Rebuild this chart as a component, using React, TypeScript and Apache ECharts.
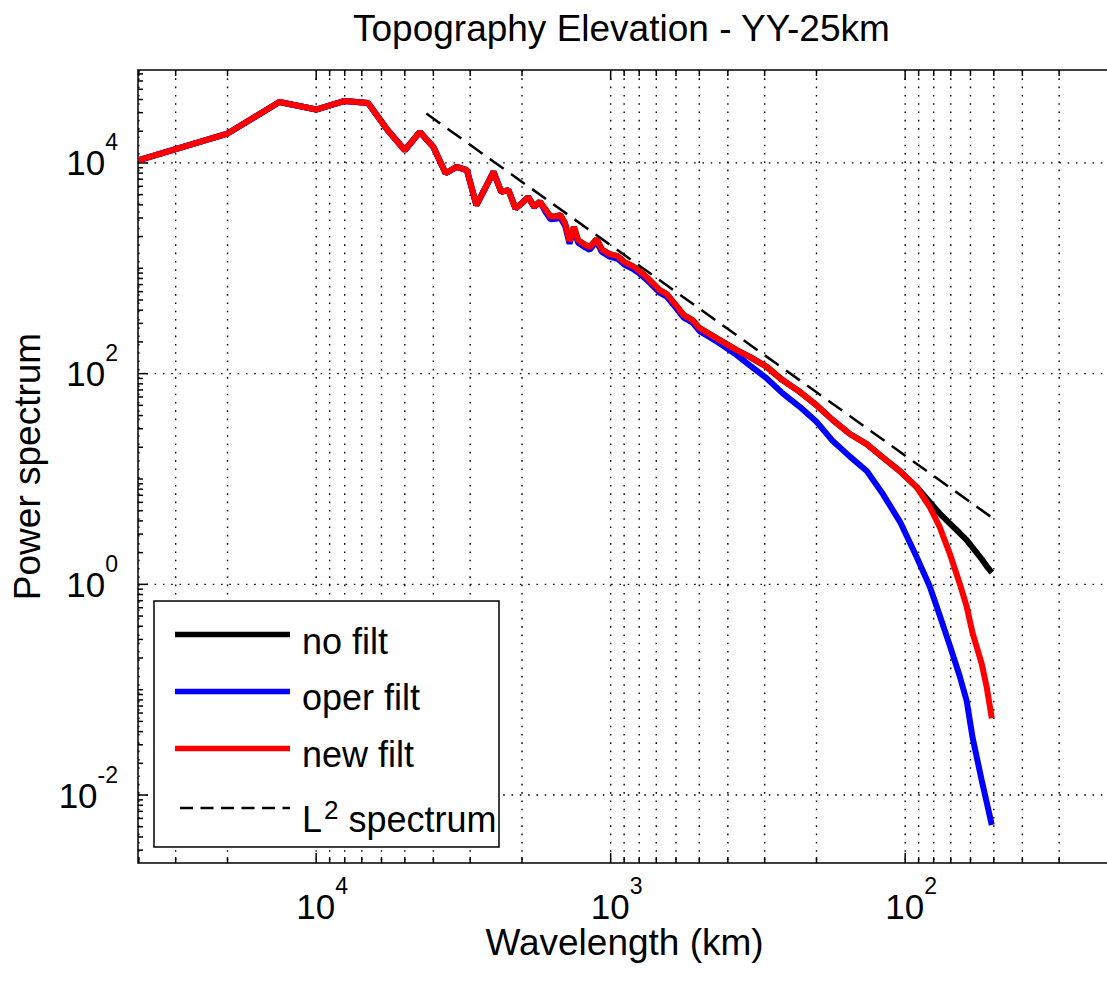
import React, { useEffect, useRef } from 'react';
import * as echarts from 'echarts';

const FONT = '"Liberation Sans", Arial, Helvetica, sans-serif';
const TITLE = 'Topography Elevation - YY-25km';

// Wavelength (km) of each sampled point (shared by the three spectra)
const wavelengthKm = [
  40000, 20000, 13333, 10000, 8000, 6667, 5714, 5000, 4444, 4000,
  3636, 3333, 3077, 2857, 2667, 2500, 2353, 2222, 2105, 2000,
  1905, 1818, 1739, 1667, 1600, 1538, 1481, 1429, 1379, 1333, 1290,
  1216, 1179, 1116, 1073, 1008, 947, 897, 842, 797, 755, 720, 682, 645, 597, 565, 527,
  499, 461, 426, 373, 337, 295, 261, 228, 200, 176, 154, 135, 119, 104,
  91.4, 82.6, 76.4, 70.6, 65.3, 61.8, 59.0, 55.0, 52.9, 50.8,
];

// "new filt" (red)
const newFilt = [
  10610, 19010, 37900, 32110, 38730, 37070, 20420, 13200, 19680, 14190,
  7980, 9160, 8530, 3970, 5750, 8220, 5310, 5510, 3690, 4150,
  4730, 3830, 4270, 3640, 3080, 3120, 3190, 2680, 1810, 2470, 1850,
  1657, 1586, 1889, 1518, 1361, 1302, 1143, 1047, 939, 823, 722, 620, 568, 437, 359, 322,
  270, 237, 208, 167, 144, 116, 86.8, 67.2, 50.2, 36.2, 26.7, 21.4, 16.0, 11.8,
  8.38, 5.45, 3.52, 1.97, 1.02, 0.613, 0.343, 0.178, 0.107, 0.0535,
];

// "oper filt" (blue)
const operFilt = [
  10610, 19010, 37900, 32110, 38730, 37070, 20420, 13200, 19680, 14190,
  7980, 9160, 8530, 3970, 5750, 8220, 5310, 5510, 3690, 4150,
  4730, 3830, 4270, 3450, 2920, 2950, 3020, 2540, 1710, 2340, 1750,
  1570, 1500, 1790, 1440, 1290, 1230, 1080, 990, 889, 779, 684, 587, 538, 414, 340, 305,
  253, 222, 193, 150, 120, 90.0, 65.3, 48.4, 34.9, 22.9, 16.3, 11.9, 7.19, 3.90,
  1.82, 0.964, 0.511, 0.265, 0.135, 0.0781, 0.0348, 0.0139, 0.0086, 0.0052,
];

// "no filt" (black)
const noFilt = [
  10610, 19010, 37900, 32110, 38730, 37070, 20420, 13200, 19680, 14190,
  7980, 9160, 8530, 3970, 5750, 8220, 5310, 5510, 3690, 4150,
  4730, 3830, 4270, 3640, 3080, 3120, 3190, 2680, 1810, 2470, 1850,
  1657, 1586, 1889, 1518, 1361, 1302, 1143, 1047, 939, 823, 722, 620, 568, 437, 359, 322,
  270, 237, 208, 167, 144, 116, 86.8, 67.2, 50.2, 36.2, 26.7, 21.4, 16.0, 11.8,
  8.38, 6.04, 4.72, 3.79, 3.07, 2.63, 2.23, 1.74, 1.49, 1.29,
];

// L^2 reference spectrum (dashed)
const l2Wavelength = [4225, 50.3];
const l2Power = [29400, 4.23];

// axis ticks
const xLabelExponents = [2, 3, 4];
const yLabelExponents = [-2, 0, 2, 4];
const xMajorTicks = [100, 1000, 10000];
const xMinorTicks = [
  20, 30, 40, 50, 60, 70, 80, 90,
  200, 300, 400, 500, 600, 700, 800, 900,
  2000, 3000, 4000, 5000, 6000, 7000, 8000, 9000,
  20000, 30000, 40000,
];
const yMajorTicks = [0.01, 1, 100, 10000];

const X_MIN_LOG = Math.log10(20);
const X_MAX_LOG = 4.605;
const Y_MIN_LOG = -2.645;
const Y_MAX_LOG = 4.882;

const yMinorTicks: number[] = [];
for (let e = -3; e <= 4; e++) {
  for (let m = 1; m <= 9; m++) {
    const v = m * Math.pow(10, e);
    const lv = Math.log10(v);
    if (lv < Y_MIN_LOG || lv > Y_MAX_LOG) continue;
    if (m === 1 && e % 2 === 0) continue;
    yMinorTicks.push(v);
  }
}

const toPairs = (xs: number[], ys: number[]) =>
  xs.map((x, i) => [Math.log10(x), Math.log10(ys[i])]);

const labelRich = {
  b: { fontSize: 35, lineHeight: 64, fontFamily: FONT, color: '#000', verticalAlign: 'middle' },
  e: { fontSize: 23, lineHeight: 23, fontFamily: FONT, color: '#000', verticalAlign: 'top' },
};
const expFormatter = (v: number) => `{b|10}{e|${Math.round(v)}}`;

const DOT = { stroke: '#000', lineWidth: 1.4, lineDash: [1.6, 6.7] };
const TICK = { stroke: '#000', lineWidth: 1.5 };
const LINE_W = 6;

function buildOption() {
  const xTickData = [
    ...xMajorTicks.map((v) => [Math.log10(v), 0, 1]),
    ...xMinorTicks.map((v) => [Math.log10(v), 0, 0]),
  ];
  const yTickData = [
    ...yMajorTicks.map((v) => [X_MAX_LOG, Math.log10(v), 1]),
    ...yMinorTicks.map((v) => [X_MAX_LOG, Math.log10(v), 0]),
  ];

  const legendZ = 100;
  const legend = [
    { type: 'rect', z: legendZ, shape: { x: 154, y: 601, width: 345, height: 246 }, style: { fill: '#fff', stroke: '#000', lineWidth: 1.5 } },
    { type: 'line', z: legendZ, shape: { x1: 175, y1: 634.5, x2: 290, y2: 634.5 }, style: { stroke: '#000', lineWidth: 5.7 } },
    { type: 'line', z: legendZ, shape: { x1: 175, y1: 691.5, x2: 290, y2: 691.5 }, style: { stroke: '#0000ff', lineWidth: 5.7 } },
    { type: 'line', z: legendZ, shape: { x1: 175, y1: 748.5, x2: 290, y2: 748.5 }, style: { stroke: '#ff0000', lineWidth: 5.7 } },
    { type: 'line', z: legendZ, shape: { x1: 180, y1: 808, x2: 290, y2: 808 }, style: { stroke: '#000', lineWidth: 2.5, lineDash: [13, 7.5] } },
    { type: 'text', z: legendZ, style: { text: 'no filt', x: 302, y: 641.5, fontSize: 36, fontFamily: FONT, fill: '#000', align: 'left', verticalAlign: 'middle' } },
    { type: 'text', z: legendZ, style: { text: 'oper filt', x: 302, y: 697.5, fontSize: 36, fontFamily: FONT, fill: '#000', align: 'left', verticalAlign: 'middle' } },
    { type: 'text', z: legendZ, style: { text: 'new filt', x: 302, y: 754.5, fontSize: 36, fontFamily: FONT, fill: '#000', align: 'left', verticalAlign: 'middle' } },
    {
      type: 'text', z: legendZ,
      style: {
        text: '{a|L}{s|2}{a| spectrum}', x: 302, y: 819.5, align: 'left', verticalAlign: 'middle',
        fontSize: 36, fontFamily: FONT, fill: '#000',
        rich: {
          a: { fontSize: 36, lineHeight: 46, fontFamily: FONT, fill: '#000', color: '#000', verticalAlign: 'middle' },
          s: { fontSize: 26, lineHeight: 26, fontFamily: FONT, fill: '#000', color: '#000', verticalAlign: 'top', padding: [0, 0, 0, 2] },
        },
      },
    },
  ];

  return {
    animation: false,
    backgroundColor: '#fff',
    textStyle: { fontFamily: FONT },
    title: {
      text: TITLE, left: 353, top: 10, padding: 0,
      textStyle: { fontSize: 37, fontWeight: 'normal', fontFamily: FONT, color: '#000' },
    },
    grid: {
      left: 138, top: 70, width: 973, height: 793,
      show: true, borderColor: '#000', borderWidth: 1.5, backgroundColor: 'rgba(0,0,0,0)',
      containLabel: false, outerBoundsMode: 'none',
    },
    xAxis: {
      type: 'value', inverse: true, min: X_MIN_LOG, max: X_MAX_LOG,
      axisLine: { show: false }, axisTick: { show: false }, splitLine: { show: false },
      minorTick: { show: false }, minorSplitLine: { show: false },
      axisLabel: {
        customValues: xLabelExponents, margin: 11, padding: [0, 0, 0, 12],
        formatter: expFormatter, rich: labelRich,
      },
      name: 'Wavelength (km)', nameLocation: 'middle', nameGap: 61, nameMoveOverlap: false,
      nameTextStyle: { fontSize: 37, fontFamily: FONT, color: '#000' },
    },
    yAxis: {
      type: 'value', min: Y_MIN_LOG, max: Y_MAX_LOG,
      axisLine: { show: false }, axisTick: { show: false }, splitLine: { show: false },
      minorTick: { show: false }, minorSplitLine: { show: false },
      axisLabel: {
        customValues: yLabelExponents, margin: 20,
        formatter: expFormatter, rich: labelRich,
      },
      name: 'Power spectrum', nameLocation: 'middle', nameGap: 92, nameRotate: 90, nameMoveOverlap: false,
      nameTextStyle: { fontSize: 37, fontFamily: FONT, color: '#000' },
    },
    graphic: { elements: legend },
    series: [
      {
        type: 'custom', name: 'x grid', coordinateSystem: 'cartesian2d', silent: true, z: 1,
        data: xTickData,
        renderItem: (params: any, api: any) => {
          const cs = params.coordSys;
          const x = api.coord([api.value(0), Y_MIN_LOG])[0];
          const major = api.value(2) === 1;
          const top = cs.y;
          const bottom = cs.y + cs.height;
          const len = major ? 10 : 6;
          return {
            type: 'group',
            children: [
              { type: 'line', shape: { x1: x, y1: top, x2: x, y2: bottom }, style: DOT },
              { type: 'line', shape: { x1: x, y1: bottom, x2: x, y2: bottom - len }, style: TICK },
              { type: 'line', shape: { x1: x, y1: top, x2: x, y2: top + len }, style: TICK },
            ],
          };
        },
      },
      {
        type: 'custom', name: 'y grid', coordinateSystem: 'cartesian2d', silent: true, z: 1,
        data: yTickData,
        renderItem: (params: any, api: any) => {
          const cs = params.coordSys;
          const y = api.coord([api.value(0), api.value(1)])[1];
          const major = api.value(2) === 1;
          const left = cs.x;
          const right = cs.x + cs.width;
          const len = major ? 10 : 5;
          const children: any[] = [
            { type: 'line', shape: { x1: left, y1: y, x2: left + len, y2: y }, style: TICK },
          ];
          if (major) {
            children.unshift({ type: 'line', shape: { x1: left, y1: y, x2: right, y2: y }, style: DOT });
          }
          return { type: 'group', children };
        },
      },
      {
        type: 'line', name: 'no filt', data: toPairs(wavelengthKm, noFilt), z: 3,
        symbol: 'none', showSymbol: false, lineStyle: { color: '#000000', width: LINE_W }, itemStyle: { color: '#000000' },
      },
      {
        type: 'line', name: 'oper filt', data: toPairs(wavelengthKm, operFilt), z: 3,
        symbol: 'none', showSymbol: false, lineStyle: { color: '#0000ff', width: LINE_W }, itemStyle: { color: '#0000ff' },
      },
      {
        type: 'line', name: 'new filt', data: toPairs(wavelengthKm, newFilt), z: 3,
        symbol: 'none', showSymbol: false, lineStyle: { color: '#ff0000', width: LINE_W }, itemStyle: { color: '#ff0000' },
      },
      {
        type: 'line', name: 'L2 spectrum', data: toPairs(l2Wavelength, l2Power), z: 4,
        symbol: 'none', showSymbol: false, lineStyle: { color: '#000000', width: 2.5, type: [17, 9] }, itemStyle: { color: '#000000' },
      },
    ],
  };
}

export default function App() {
  const ref = useRef<HTMLDivElement>(null);
  useEffect(() => {
    if (!ref.current) return;
    const chart = echarts.init(ref.current, undefined, { renderer: 'svg' });
    chart.setOption(buildOption() as any);
    return () => chart.dispose();
  }, []);
  return (
    <div
      ref={ref}
      style={{ position: 'fixed', left: 0, top: 0, width: 1107, height: 994, background: '#fff' }}
    />
  );
}
